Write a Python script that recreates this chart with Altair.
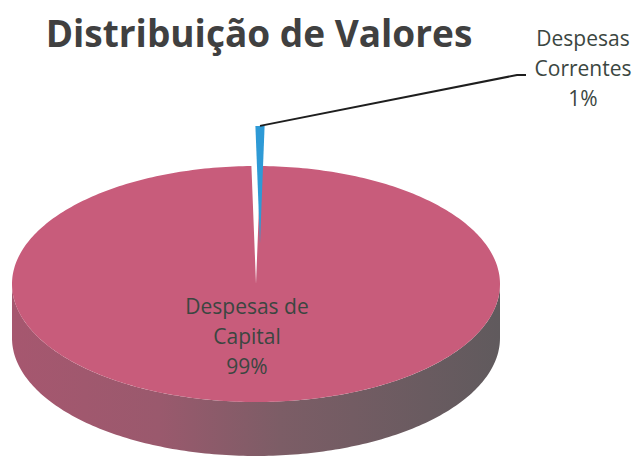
import numpy as np
import pandas as pd
import altair as alt

# ---------------- data ----------------
categories = ["Despesas de Capital", "Despesas Correntes"]
label_lines = [["Despesas de", "Capital"], ["Despesas", "Correntes"]]
shares = [99.4, 0.6]          # percent of total (shown rounded: 99% / 1%)
slice_colors = ["#c85c7b", "#2e9ad6"]
title_text = "Distribuição de Valores"

# ---------------- layout (styles / positions) ----------------
W, H = 636, 457
CX, CY, RX, RY, DEPTH = 256, 284, 244, 118, 54
EXPLODE = [0.0, 0.34]
EXPLODE_DX = [0, 4]
OUT_LABEL = (583, 70)          # centre of the outside label block
IN_LABEL_DX, IN_LABEL_FRAC = -9, 0.46
LINE_H = 30
FONT = "Open Sans"

def pt(theta_deg, r=1.0, dx=0.0, dy=0.0):
    t = np.radians(theta_deg)
    return CX + dx + r * RX * np.sin(t), CY + dy - r * RY * np.cos(t)

# slice angles (clockwise from 12 o'clock), last slice centred at the top
total = sum(shares)
a0 = shares[-1] / total * 360 / 2
angles = []
a = a0
for s in shares:
    b = a + s / total * 360
    angles.append((a, b))
    a = b

def offset(k):
    sa, sb = angles[k]
    t = np.radians((sa + sb) / 2)
    return (EXPLODE[k] * RX * np.sin(t) + EXPLODE_DX[k],
            -EXPLODE[k] * RY * np.cos(t))

rows = []
# side face (front half of the disc)
ths = np.linspace(90, 270, 181)
i = 0
for th in ths:
    x, y = pt(th)
    rows.append(dict(part="side", i=i, x=x, y=y)); i += 1
for th in ths[::-1]:
    x, y = pt(th)
    rows.append(dict(part="side", i=i, x=x, y=y + DEPTH)); i += 1

# top faces of the slices
for k, (cat, (sa, sb)) in enumerate(zip(categories, angles)):
    dx, dy = offset(k)
    n = max(3, int(abs(sb - sa)))
    i = 0
    rows.append(dict(part=cat, i=i, x=CX + dx, y=CY + dy)); i += 1
    for th in np.linspace(sa, sb, n + 1):
        x, y = pt(th, dx=dx, dy=dy)
        rows.append(dict(part=cat, i=i, x=x, y=y)); i += 1
    rows.append(dict(part=cat, i=i, x=CX + dx, y=CY + dy))
shapes = pd.DataFrame(rows)

# leader line from exploded small slice to its label
dx1, dy1 = offset(1)
lx0, ly0 = pt(sum(angles[1]) / 2, dx=dx1, dy=dy1)
leader = pd.DataFrame({
    "i": [0, 1, 2],
    "x": [lx0, OUT_LABEL[0] - 66, OUT_LABEL[0] - 57],
    "y": [ly0, OUT_LABEL[1] + 5, OUT_LABEL[1] + 5],
})

# labels (y = first line, block centred on the anchor)
pcts = [f"{round(s / total * 100)}%" for s in shares]
ix, iy = pt(sum(angles[0]) / 2, r=IN_LABEL_FRAC)
labels = pd.DataFrame({
    "x": [ix + IN_LABEL_DX, OUT_LABEL[0]],
    "y": [iy - LINE_H, OUT_LABEL[1] - LINE_H],
    "text": ["\n".join(label_lines[k] + [pcts[k]]) for k in range(2)],
})
titles = pd.DataFrame({"x": [259], "y": [47], "text": [title_text]})

xs = alt.Scale(domain=[0, W])
ys = alt.Scale(domain=[0, H], reverse=True)
X = alt.X("x:Q", scale=xs, axis=None)
Y = alt.Y("y:Q", scale=ys, axis=None)

side_grad = alt.Gradient(
    gradient="linear",
    stops=[alt.GradientStop(color="#a6576f", offset=0),
           alt.GradientStop(color="#9a596d", offset=0.3),
           alt.GradientStop(color="#7c5d66", offset=0.55),
           alt.GradientStop(color="#605a5d", offset=1)],
    x1=0, x2=1, y1=0, y2=0)

base = alt.Chart(shapes)
side = base.transform_filter(alt.datum.part == "side").mark_line(
    fill=side_grad, strokeWidth=0, interpolate="linear"
).encode(x=X, y=Y, order="i:Q")

tops = []
for k, cat in enumerate(categories):
    tops.append(base.transform_filter(alt.datum.part == cat).mark_line(
        fill=slice_colors[k], strokeWidth=0, interpolate="linear"
    ).encode(x=X, y=Y, order="i:Q"))

lead = alt.Chart(leader).mark_line(color="#1e1e1e", strokeWidth=2).encode(
    x=X, y=Y, order="i:Q")

lbl = alt.Chart(labels).mark_text(
    font=FONT, fontSize=21, color="#3b4641", lineBreak="\n", lineHeight=LINE_H,
    align="center", baseline="middle"
).encode(x=X, y=Y, text="text:N")

ttl = alt.Chart(titles).mark_text(
    font=FONT, fontSize=37, fontWeight="bold", color="#404040",
    align="center", baseline="alphabetic"
).encode(x=X, y=Y, text="text:N")

chart = alt.layer(side, *tops, lead, lbl, ttl).properties(
    width=W, height=H, padding=0, autosize=alt.AutoSizeParams(type="none"),
    background="white"
).configure_view(stroke=None)

chart.save("out.html", embed_options={"renderer": "svg", "actions": False})
